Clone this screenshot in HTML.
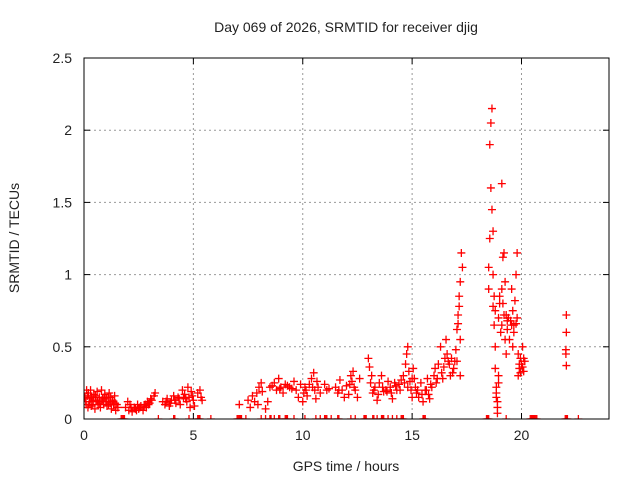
<!DOCTYPE html>
<html><head><meta charset="utf-8"><style>
body{margin:0;background:#fff}
svg text{font-family:"Liberation Sans",sans-serif;font-size:14px;fill:#222}
</style></head><body>
<svg id="chart" width="640" height="480" xmlns="http://www.w3.org/2000/svg">
<defs><clipPath id="pc"><rect x="84" y="58" width="525" height="361"/></clipPath></defs>
<text x="346" y="32" text-anchor="middle">Day 069 of 2026, SRMTID for receiver djig</text>
<g id="grid"></g>
<g id="pts" clip-path="url(#pc)"></g>
<g id="axes"></g>
<text x="346" y="471" text-anchor="middle">GPS time / hours</text>
<text transform="translate(19,238) rotate(-90)" text-anchor="middle">SRMTID / TECUs</text>
</svg>
<script>
const xTicks=[0,5,10,15,20];
const xTickLabels=["0","5","10","15","20"];
const yTicks=[0,0.5,1,1.5,2,2.5];
const yTickLabels=["0","0.5","1","1.5","2","2.5"];
const times=[0.05,0.1,0.12,0.18,0.2,0.25,0.3,0.35,0.4,0.45,0.5,0.55,0.6,0.65,0.7,0.75,0.8,0.85,0.9,0.95,1.0,1.05,1.1,1.15,1.2,1.25,1.3,1.35,1.4,1.45,1.5,1.55,
0.08,0.15,0.22,0.28,0.33,0.42,0.52,0.62,0.72,0.82,0.92,1.02,1.12,1.22,1.32,1.42,
1.9,2.0,2.05,2.1,2.2,2.3,2.4,2.45,2.5,2.6,2.7,2.8,2.85,2.9,3.0,3.05,3.1,3.2,3.25,
2.15,2.35,2.55,2.75,2.95,
3.6,3.7,3.8,3.9,4.0,4.1,4.2,4.3,4.4,4.5,4.6,4.7,4.75,4.8,4.85,4.9,5.0,5.05,5.2,5.3,5.35,5.4,
3.75,3.95,4.15,4.35,4.55,4.65,4.95,
7.1,7.5,7.6,7.7,7.8,7.9,7.95,8.0,8.1,8.15,8.3,8.4,
8.5,8.7,8.8,8.9,9.0,9.1,9.2,9.4,9.6,9.7,9.8,9.9,10.0,10.05,10.1,10.2,10.3,10.4,10.5,10.55,10.6,10.7,10.8,11.0,11.1,11.5,11.6,11.7,11.8,11.9,12.0,12.1,12.2,12.25,12.3,12.4,12.5,12.6,
8.6,8.95,9.3,9.5,10.15,10.45,10.65,11.2,11.65,12.15,12.35,
13.0,13.05,13.1,13.15,13.2,13.3,13.4,13.5,13.6,13.7,13.8,13.9,14.0,14.1,14.2,14.3,14.4,14.5,14.6,14.7,14.75,14.8,14.85,14.9,14.95,15.0,15.05,15.1,15.15,15.2,15.3,15.4,15.5,15.6,15.7,15.75,15.8,15.9,16.0,16.05,16.1,16.2,16.3,16.4,16.5,16.55,16.6,16.7,16.75,16.8,16.9,17.0,17.05,17.1,17.15,17.2,17.25,17.3,17.05,17.2,17.2,
13.25,13.45,13.65,13.85,14.05,14.25,14.45,14.65,14.8,15.0,15.25,15.45,15.65,15.85,16.15,16.35,16.45,16.65,16.85,16.95,17.1,17.15,
18.5,18.5,18.55,18.55,18.6,18.65,18.6,18.65,18.7,18.7,18.75,18.75,18.8,18.8,18.85,18.85,18.9,18.9,18.95,18.7,18.8,18.95,19.1,19.0,19.05,19.1,19.15,19.15,19.2,19.25,19.25,19.3,19.3,19.35,19.4,19.45,19.5,19.55,19.6,19.6,19.65,19.7,19.75,19.8,19.8,19.85,19.85,19.9,19.95,20.0,20.05,20.1,20.15,
18.85,18.9,18.95,19.0,19.1,19.2,19.35,19.55,19.65,19.75,19.9,19.95,20.05,20.1,
22.05,22.05,22.03,22.03,22.05,
1.7,1.8,1.85,3.4,4.1,4.8,5.2,5.3,5.8,7.0,7.1,7.2,7.4,8.1,8.3,8.5,8.7,8.9,9.2,9.3,9.6,10.1,10.6,10.8,11.0,11.1,11.3,11.6,12.2,12.4,12.8,12.9,13.2,13.4,13.6,13.7,13.9,14.1,14.3,14.5,14.6,15.5,15.6,18.4,18.5,19.3,20.4,20.5,20.6,20.7,22.0,22.1,22.6,
1.75,4.15,5.25,7.05,7.15,8.55,8.95,9.25,11.05,11.65,12.85,13.25,13.65,14.55,15.55,18.45,20.45,20.55,20.65,22.05];
const values=[0.15,0.1,0.2,0.08,0.18,0.12,0.2,0.15,0.1,0.17,0.07,0.13,0.19,0.1,0.15,0.08,0.2,0.14,0.1,0.17,0.12,0.09,0.15,0.18,0.11,0.07,0.13,0.1,0.16,0.06,0.1,0.08,
0.12,0.16,0.1,0.14,0.09,0.13,0.16,0.12,0.11,0.13,0.15,0.14,0.1,0.15,0.12,0.11,
0.08,0.12,0.06,0.1,0.05,0.08,0.06,0.1,0.07,0.09,0.06,0.1,0.08,0.12,0.11,0.14,0.13,0.16,0.18,
0.08,0.07,0.08,0.09,0.1,
0.12,0.1,0.14,0.09,0.13,0.16,0.11,0.15,0.1,0.2,0.17,0.12,0.22,0.15,0.08,0.19,0.13,0.09,0.18,0.2,0.15,0.13,
0.12,0.11,0.13,0.14,0.15,0.14,0.16,
0.1,0.13,0.08,0.16,0.12,0.18,0.1,0.22,0.25,0.19,0.07,0.12,
0.22,0.25,0.2,0.28,0.22,0.18,0.24,0.22,0.26,0.2,0.15,0.24,0.12,0.18,0.22,0.16,0.24,0.28,0.32,0.2,0.14,0.22,0.18,0.24,0.2,0.22,0.18,0.27,0.2,0.15,0.23,0.17,0.3,0.26,0.33,0.2,0.15,0.28,
0.23,0.21,0.23,0.21,0.2,0.22,0.26,0.21,0.2,0.24,0.22,
0.42,0.36,0.25,0.3,0.18,0.22,0.13,0.25,0.3,0.19,0.2,0.26,0.22,0.14,0.25,0.2,0.24,0.27,0.3,0.38,0.45,0.5,0.33,0.26,0.2,0.15,0.35,0.28,0.22,0.18,0.15,0.25,0.12,0.2,0.28,0.17,0.14,0.22,0.3,0.35,0.25,0.38,0.5,0.28,0.42,0.55,0.45,0.38,0.3,0.42,0.35,0.48,0.62,0.72,0.85,0.95,1.15,1.05,0.4,0.55,0.3,
0.2,0.17,0.22,0.19,0.18,0.23,0.2,0.25,0.22,0.28,0.2,0.17,0.2,0.24,0.28,0.32,0.36,0.4,0.32,0.4,0.66,0.78,
0.9,1.05,1.25,1.9,2.05,2.15,1.6,1.45,1.3,1.0,0.85,0.65,0.5,0.35,0.22,0.15,0.08,0.04,0.25,0.78,0.75,0.7,1.63,0.85,0.6,0.65,0.8,1.12,1.15,0.95,0.55,0.72,0.45,0.62,0.7,0.55,0.68,0.9,0.75,0.5,0.65,0.82,1.0,1.15,0.7,0.45,0.3,0.35,0.42,0.38,0.5,0.33,0.4,
0.18,0.12,0.3,0.8,0.9,0.72,0.68,0.65,0.6,0.66,0.38,0.32,0.36,0.42,
0.72,0.6,0.48,0.45,0.37,
0,0,0,0,0,0,0,0,0,0,0,0,0,0,0,0,0,0,0,0,0,0,0,0,0,0,0,0,0,0,0,0,0,0,0,0,0,0,0,0,0,0,0,0,0,0,0,0,0,0,0,0,0,
0,0,0,0,0,0,0,0,0,0,0,0,0,0,0,0,0,0,0,0];
const L=84,R=609,T=58,B=419,XMAX=24,YMAX=2.5;
const xs=v=>L+(R-L)*v/XMAX, ys=v=>B-(B-T)*v/YMAX;
const NS="http://www.w3.org/2000/svg";
function mk(tag,a,p){const e=document.createElementNS(NS,tag);for(const k in a)e.setAttribute(k,a[k]);p.appendChild(e);return e;}
const grid=document.getElementById('grid'),axes=document.getElementById('axes'),pts=document.getElementById('pts');
xTicks.forEach((t,i)=>{const x=xs(t);
 if(t>0){const g=mk('line',{x1:x,x2:x,y1:T,y2:B,stroke:'#999','stroke-dasharray':'2,3'},grid);
 
 }
 mk('line',{x1:x,x2:x,y1:B,y2:B-6,stroke:'#000'},axes);mk('line',{x1:x,x2:x,y1:T,y2:T+6,stroke:'#000'},axes);
 const tx=mk('text',{x:x,y:B+21,'text-anchor':'middle'},axes);tx.textContent=xTickLabels[i];
 
 });
yTicks.forEach((t,i)=>{const y=ys(t);
 if(t>0&&t<YMAX){const g=mk('line',{x1:L,x2:R,y1:y,y2:y,stroke:'#999','stroke-dasharray':'2,3'},grid);
 
 }
 mk('line',{x1:L,x2:L+6,y1:y,y2:y,stroke:'#000'},axes);mk('line',{x1:R,x2:R-6,y1:y,y2:y,stroke:'#000'},axes);
 const tx=mk('text',{x:L-12,y:y+5,'text-anchor':'end'},axes);tx.textContent=yTickLabels[i];
 
 });
const fr=mk('rect',{x:L,y:T,width:R-L,height:B-T,fill:'none',stroke:'#000'},axes);


times.forEach((t,i)=>{const x=xs(t),y=ys(values[i]);
 const p=mk('path',{d:`M${x-4} ${y}h8M${x} ${y-4}v8`,stroke:'#f00','stroke-width':1.3},pts);
 
 });
</script>
</body></html>
